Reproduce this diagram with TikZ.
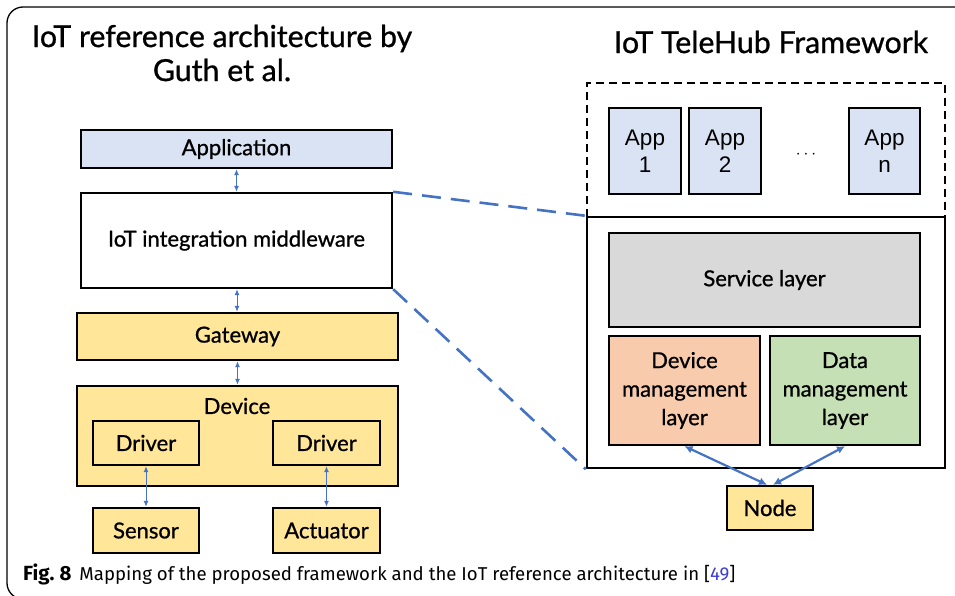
\documentclass[tikz,border=0pt]{standalone}
\usepackage{fontspec}
\setmainfont{Lato}[FakeBold=0.9]
\newfontfamily\appfont{Liberation Sans}
\newfontfamily\capfont{Fira Sans}
\usetikzlibrary{arrows.meta}
\definecolor{linkblue}{HTML}{4472C4}
\definecolor{appblue}{HTML}{DAE3F3}
\definecolor{gold}{HTML}{FFE699}
\definecolor{svcgray}{HTML}{D9D9D9}
\definecolor{salmon}{HTML}{F8CBAD}
\definecolor{leaf}{HTML}{C5E0B4}
\definecolor{citeblue}{HTML}{3B3BD6}
\tikzset{
  box/.style={draw=black, line width=2.4pt, inner sep=0pt, align=center,
    font=\fontsize{22}{28}\selectfont},
  appbox/.style={box, fill=appblue, minimum width=72pt, minimum height=86pt,
    font=\appfont\fontsize{22.5}{27}\selectfont},
  link/.style={draw=linkblue, line width=1pt, {Latex[length=6pt,width=5pt]}-{Latex[length=6pt,width=5pt]}},
  biglink/.style={draw=linkblue, line width=2.2pt, {Latex[length=8pt,width=8pt]}-{Latex[length=8pt,width=8pt]}},
  mapline/.style={draw=linkblue, line width=2.6pt, dash pattern=on 19pt off 10pt},
  title/.style={font=\fontsize{30.3}{34}\selectfont, align=center, inner sep=0pt}
}
\begin{document}
\begin{tikzpicture}[x=1pt, y=-1pt]
\useasboundingbox (0,0) rectangle (955,596);
\begin{scope}
  \clip (0,0) rectangle (955,596);
  \draw[line width=1.3pt, rounded corners=16pt] (7,7) rectangle (990,599);
\end{scope}

% titles
\node[title] (ltitle) at (222,53) {IoT reference architecture by\\Guth et al.};
\node[title] (rtitle) at (771,42) {IoT TeleHub Framework};

% reference architecture stack
\node[box, fill=appblue, minimum width=311pt, minimum height=38pt] (app) at (236.5,149) {Application};
\node[box, fill=white, minimum width=311pt, minimum height=95pt] (mw) at (236.5,240.5) {IoT integration middleware};
\node[box, fill=gold, minimum width=321pt, minimum height=47pt] (gw) at (237.5,336.5) {Gateway};
\node[box, fill=gold, minimum width=321pt, minimum height=100pt] (dev) at (237.5,436) {};
\node[inner sep=0pt, font=\fontsize{22}{28}\selectfont] (devlabel) at (237,406) {Device};
\node[box, fill=gold, minimum width=106pt, minimum height=44pt] (drvl) at (146,443) {Driver};
\node[box, fill=gold, minimum width=107pt, minimum height=44pt] (drvr) at (326.5,443) {Driver};
\node[box, fill=gold, minimum width=106pt, minimum height=45pt] (sensor) at (146,530.5) {Sensor};
\node[box, fill=gold, minimum width=107pt, minimum height=45pt] (act) at (326.5,530.5) {Actuator};

\draw[link] (app) -- (mw);
\draw[link] ([xshift=0.5pt]mw.south) -- ([xshift=-0.5pt]gw.north);
\draw[link] (gw) -- (dev);
\draw[link] (drvl) -- (sensor);
\draw[link] (drvr) -- (act);

% TeleHub framework
\draw[line width=2.4pt, dash pattern=on 8pt off 5pt] (587,217) -- (587,83) -- (945,83) -- (945,217);
\node[box, fill=none, minimum width=358pt, minimum height=251pt] (tele) at (766,342.5) {};
\node[appbox] (app1) at (645,151) {App\\1};
\node[appbox] (app2) at (725,151) {App\\2};
\node[appbox, minimum width=71pt] (appn) at (884.5,151) {App\\n};
\node[inner sep=0pt, font=\appfont\fontsize{18}{20}\selectfont] (dots) at (806,155) {$\cdots$};
\node[box, fill=svcgray, minimum width=311pt, minimum height=94pt] (svc) at (764.5,280) {Service layer};
\node[box, fill=salmon, minimum width=151pt, minimum height=109pt, font=\fontsize{22}{28.5}\selectfont] (devm) at (684.5,390.5) {Device\\management\\layer};
\node[box, fill=leaf, minimum width=150pt, minimum height=109pt, font=\fontsize{22}{28.5}\selectfont] (datam) at (845,390.5) {Data\\management\\layer};
\node[box, fill=gold, minimum width=86pt, minimum height=44pt] (node) at (770,508) {Node};

\draw[biglink] (devm.south) -- ([xshift=-3pt]node.north);
\draw[biglink] (datam.south) -- ([xshift=3pt]node.north);

% mapping between the two
\draw[mapline] (mw.north east) -- (tele.north west);
\draw[mapline] (mw.south east) -- (tele.south west);

% caption
\node[anchor=west, inner sep=0pt, font=\capfont\fontsize{18.6}{21}\selectfont] (cap) at (23,574)
  {{\fontsize{20.5}{21}\selectfont\bfseries Fig.\hspace{5pt}8}\hspace{8pt}Mapping of the proposed framework and the IoT reference architecture in [\textcolor{citeblue}{49}]};
\end{tikzpicture}
\end{document}
